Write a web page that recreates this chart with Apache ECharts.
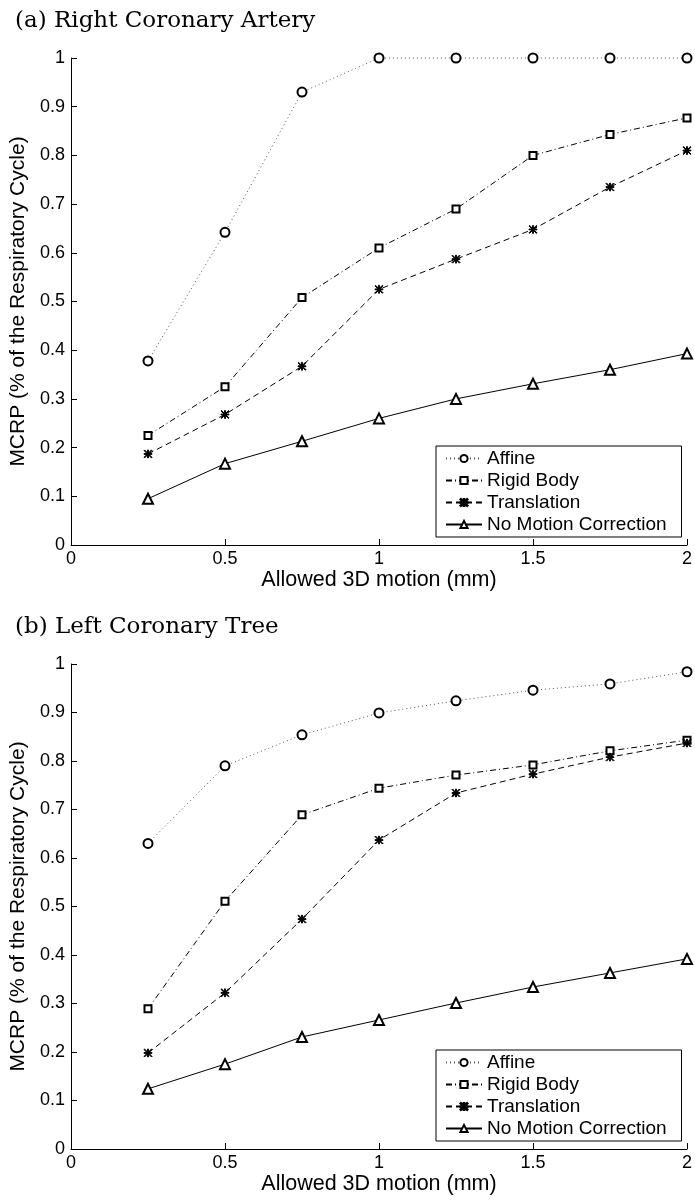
<!DOCTYPE html>
<html>
<head>
<meta charset="utf-8">
<script src="https://cdn.jsdelivr.net/npm/echarts@6/dist/echarts.min.js"></script>
<style>
  html, body { margin: 0; padding: 0; background: #fff; }
  #chart { width: 695px; height: 1203px; }
</style>
</head>
<body>
<div id="chart"></div>
<script>
// Allowed 3D motion (mm)
const motion = [0.25, 0.5, 0.75, 1, 1.25, 1.5, 1.75, 2];

// (a) Right Coronary Artery
const rcaAffine      = [0.378, 0.642, 0.930, 1.000, 1.000, 1.000, 1.000, 1.000];
const rcaRigid       = [0.225, 0.325, 0.508, 0.610, 0.690, 0.800, 0.843, 0.877];
const rcaTranslation = [0.187, 0.268, 0.367, 0.525, 0.587, 0.648, 0.735, 0.810];
const rcaNone        = [0.095, 0.167, 0.213, 0.260, 0.300, 0.331, 0.360, 0.393];

// (b) Left Coronary Tree
const lctAffine      = [0.630, 0.790, 0.854, 0.899, 0.924, 0.946, 0.959, 0.984];
const lctRigid       = [0.289, 0.511, 0.689, 0.744, 0.771, 0.792, 0.821, 0.843];
const lctTranslation = [0.198, 0.322, 0.474, 0.637, 0.734, 0.773, 0.808, 0.837];
const lctNone        = [0.124, 0.175, 0.231, 0.266, 0.301, 0.334, 0.363, 0.392];

const seriesNames = ['Affine', 'Rigid Body', 'Translation', 'No Motion Correction'];
const panelTitles = ['(a) Right Coronary Artery', '(b) Left Coronary Tree'];
const xName = 'Allowed 3D motion (mm)';
const yName = 'MCRP (% of the Respiratory Cycle)';

const sans = 'Liberation Sans, Arial, Helvetica, sans-serif';
const serif = 'DejaVu Serif, Liberation Serif, serif';

// eight-armed asterisk marker
const asterisk = 'path://M4.5,0L5.5,0L5.5,10L4.5,10Z M0,4.5L10,4.5L10,5.5L0,5.5Z M0.7,0L10,9.3L9.3,10L0,0.7Z M9.3,0L10,0.7L0.7,10L0,9.3Z';

const styles = [
  { symbol: 'emptyCircle', symbolSize: 9, dash: [1, 3], color: '#555' },
  { symbol: 'emptyRect', symbolSize: 7, dash: [6, 3, 1, 3], color: '#000' },
  { symbol: asterisk, symbolSize: 8, dash: [6, 4], color: '#000' },
  { symbol: 'emptyTriangle', symbolSize: 10, dash: 'solid', color: '#000' }
];

function pairs(ys) { return motion.map((x, i) => [x, ys[i]]); }

const panels = [
  [rcaAffine, rcaRigid, rcaTranslation, rcaNone],
  [lctAffine, lctRigid, lctTranslation, lctNone]
];

const grids = [
  { left: 71, right: 5, top: 58, height: 487 },
  { left: 71, right: 5, top: 664, height: 485 }
];

function xAxisFor(i) {
  return {
    gridIndex: i, type: 'value', min: 0, max: 2, interval: 0.5,
    name: xName, nameLocation: 'middle', nameGap: 15,
    nameTextStyle: { fontFamily: sans, fontSize: 21.5, color: '#000', verticalAlign: 'top' },
    axisLine: { lineStyle: { color: '#000', width: 1 } },
    axisTick: { inside: true, length: 6, lineStyle: { color: '#000' } },
    axisLabel: { fontFamily: sans, fontSize: 18, color: '#000', margin: 5 },
    splitLine: { show: false }
  };
}
function yAxisFor(i) {
  return {
    gridIndex: i, type: 'value', min: 0, max: 1, interval: 0.1,
    name: yName, nameLocation: 'middle', nameGap: 35,
    nameTextStyle: { fontFamily: sans, fontSize: 21, color: '#000' },
    axisLine: { show: true, lineStyle: { color: '#000', width: 1 } },
    axisTick: { show: true, inside: true, length: 6, lineStyle: { color: '#000' } },
    axisLabel: { fontFamily: sans, fontSize: 18, color: '#000', margin: 6 },
    splitLine: { show: false }
  };
}

const series = [];
panels.forEach((sets, p) => {
  sets.forEach((ys, k) => {
    const st = styles[k];
    series.push({
      name: seriesNames[k], type: 'line',
      xAxisIndex: p, yAxisIndex: p,
      data: pairs(ys),
      symbol: st.symbol, symbolSize: st.symbolSize,
      showAllSymbol: true, clip: false,
      lineStyle: { color: st.color, width: 1, type: st.dash },
      itemStyle: { color: '#000', borderColor: '#000', borderWidth: 1 },
      emphasis: { disabled: true },
      animation: false
    });
  });
});

function legendFor(top) {
  return {
    orient: 'vertical', left: 436, top: top,
    backgroundColor: '#fff', borderColor: '#000', borderWidth: 1,
    padding: [3, 15, 3, 9],
    itemWidth: 36, itemHeight: 9, itemGap: 3,
    textStyle: { fontFamily: sans, fontSize: 19, color: '#000' },
    data: seriesNames,
    selectedMode: false
  };
}

const chart = echarts.init(document.getElementById('chart'), null, { renderer: 'canvas' });
chart.setOption({
  animation: false,
  backgroundColor: '#fff',
  title: [
    { text: panelTitles[0], left: 10, top: 5,
      textStyle: { fontFamily: serif, fontSize: 23, fontWeight: 'normal', color: '#000' } },
    { text: panelTitles[1], left: 10, top: 611,
      textStyle: { fontFamily: serif, fontSize: 23, fontWeight: 'normal', color: '#000' } }
  ],
  grid: grids,
  xAxis: [xAxisFor(0), xAxisFor(1)],
  yAxis: [yAxisFor(0), yAxisFor(1)],
  legend: [legendFor(446), legendFor(1050)],
  series: series
});
</script>
</body>
</html>
